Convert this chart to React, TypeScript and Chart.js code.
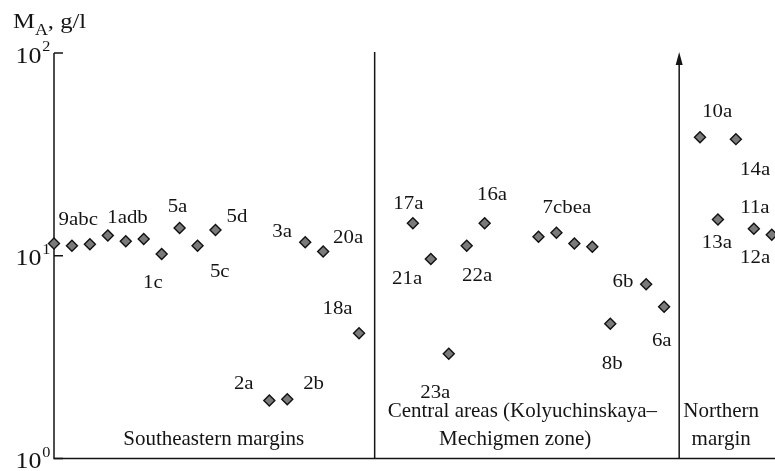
import React, { useEffect, useRef } from "react";
import { Chart, registerables } from "chart.js";

Chart.register(...registerables);

// Sample positions along the section (ordinal slots) and M_A concentration, g/l
const sampleX = [
  0, 1, 2, 3, 4, 5, 6, 7, 8, 9, 12, 13, 14, 15, 17,
  20, 21, 22, 23, 24, 27, 28, 29, 30, 31, 33, 34,
  36, 37, 38, 39, 40,
];
const concentration = [
  11.5, 11.2, 11.4, 12.6, 11.8, 12.1, 10.2, 13.7, 11.2, 13.4, 1.93, 1.96, 11.65, 10.5, 4.15,
  14.45, 9.64, 3.29, 11.2, 14.45, 12.4, 13.0, 11.5, 11.08, 4.62, 7.23, 5.61,
  38.4, 15.1, 37.6, 13.6, 12.7,
];

// Boundaries between regions (in sample slots); the last one carries an arrow
const regionBounds = [17.87, 34.84];

// Decade ticks of the log axis
const yTicks = [1, 10, 100];
const yTickExponents = ["0", "1", "2"];

// Sample labels: text anchored at (slot, concentration) of its baseline centre
const labelText = [
  "9abc", "1adb", "5a", "5d", "1c", "5c", "2a", "2b", "3a", "20a", "18a",
  "17a", "21a", "23a", "22a", "16a", "7cbea", "6b", "8b", "6a",
  "10a", "14a", "11a", "13a", "12a",
];
const labelX = [
  1.355, 4.097, 6.884, 10.2, 5.507, 9.236, 10.574, 14.465, 12.71, 16.39, 15.8,
  19.75, 19.68, 21.25, 23.58, 24.41, 28.58, 31.71, 31.11, 33.87,
  36.96, 39.07, 39.06, 36.94, 39.07,
];
const labelY = [
  14.18, 14.55, 16.38, 14.72, 6.96, 7.88, 2.19, 2.19, 12.42, 11.6, 5.14,
  16.95, 7.23, 1.99, 7.53, 18.84, 16.2, 6.99, 2.75, 3.6,
  48.5, 25.0, 16.3, 10.9, 9.24,
];

// Region captions
const regionText = [
  "Southeastern margins",
  "Central areas (Kolyuchinskaya–",
  "Mechigmen zone)",
  "Northern",
  "margin",
];
const regionX = [8.9, 26.1, 25.7, 37.18, 37.18];
const regionY = [1.166, 1.6, 1.166, 1.6, 1.166];

const INK = "#141414";
const FONT = '"Liberation Serif", "Times New Roman", serif';
const STRETCH = 1.07;

function drawText(
  ctx: CanvasRenderingContext2D,
  text: string,
  x: number,
  y: number,
  size: number,
  align: CanvasTextAlign = "center",
  sx: number = STRETCH
) {
  ctx.save();
  ctx.font = `${size}px ${FONT}`;
  ctx.fillStyle = INK;
  ctx.translate(x, y);
  ctx.scale(sx, 1);
  ctx.textAlign = align;
  ctx.textBaseline = "alphabetic";
  ctx.fillText(text, 0, 0);
  ctx.restore();
}

function textWidth(ctx: CanvasRenderingContext2D, text: string, size: number, sx: number) {
  ctx.save();
  ctx.font = `${size}px ${FONT}`;
  const w = ctx.measureText(text).width * sx;
  ctx.restore();
  return w;
}

const framePlugin = {
  id: "frame",
  beforeDatasetsDraw(chart: any) {
    const { ctx, chartArea: a, scales } = chart;
    const xs = scales.x;
    const ys = scales.y;
    ctx.save();
    ctx.strokeStyle = INK;
    ctx.fillStyle = INK;
    ctx.lineWidth = 1.5;

    // axes
    ctx.beginPath();
    ctx.moveTo(a.left, a.top);
    ctx.lineTo(a.left, a.bottom);
    ctx.lineTo(chart.width, a.bottom);
    ctx.stroke();

    // inward decade ticks
    ctx.beginPath();
    yTicks.forEach((v) => {
      const py = ys.getPixelForValue(v);
      ctx.moveTo(a.left, py);
      ctx.lineTo(a.left + 9, py);
    });
    ctx.stroke();

    // region separators
    regionBounds.forEach((b, i) => {
      const px = xs.getPixelForValue(b);
      const last = i === regionBounds.length - 1;
      ctx.beginPath();
      ctx.moveTo(px, a.bottom);
      ctx.lineTo(px, last ? a.top + 8 : a.top - 1);
      ctx.stroke();
      if (last) {
        ctx.beginPath();
        ctx.moveTo(px, a.top - 1);
        ctx.lineTo(px - 3.5, a.top + 12);
        ctx.lineTo(px + 3.5, a.top + 12);
        ctx.closePath();
        ctx.fill();
      }
    });
    ctx.restore();

    // tick labels 10^n
    yTicks.forEach((v, i) => {
      const py = ys.getPixelForValue(v);
      drawText(ctx, "10", a.left - 12.5, py + 9.5, 24, "right", 1.08);
      drawText(ctx, yTickExponents[i], a.left - 11.8, py - 2, 15.5, "left", 1.05);
    });

    // axis title M_A, g/l
    let tx = a.left - 41;
    const ty = a.top - 25;
    drawText(ctx, "M", tx, ty, 22, "left", 1.12);
    tx += textWidth(ctx, "M", 22, 1.12);
    drawText(ctx, "A", tx, ty + 6.5, 16, "left", 1.12);
    tx += textWidth(ctx, "A", 16, 1.12);
    drawText(ctx, ", g/l", tx, ty, 22, "left", 1.12);
  },
  afterDatasetsDraw(chart: any) {
    const { ctx, scales } = chart;
    const xs = scales.x;
    const ys = scales.y;
    labelText.forEach((t, i) => {
      drawText(ctx, t, xs.getPixelForValue(labelX[i]), ys.getPixelForValue(labelY[i]), 19.5);
    });
    regionText.forEach((t, i) => {
      drawText(ctx, t, xs.getPixelForValue(regionX[i]), ys.getPixelForValue(regionY[i]), 21, "center", 1.0);
    });
  },
};

export default function App() {
  const canvasRef = useRef<HTMLCanvasElement | null>(null);

  useEffect(() => {
    const canvas = canvasRef.current;
    if (!canvas) return;
    const chart = new Chart(canvas, {
      type: "scatter",
      data: {
        datasets: [
          {
            data: sampleX.map((x, i) => ({ x, y: concentration[i] })),
            pointStyle: "rectRot",
            pointRadius: 5.5,
            backgroundColor: "#7a7a7a",
            borderColor: "#111111",
            borderWidth: 1.4,
            clip: false as any,
          },
        ],
      },
      options: {
        responsive: false,
        animation: false,
        devicePixelRatio: 1,
        events: [],
        layout: { autoPadding: false, padding: { left: 54, right: 0, top: 53, bottom: 12.5 } },
        plugins: { legend: { display: false }, tooltip: { enabled: false } },
        scales: {
          x: { type: "linear", min: 0, max: 40.18, display: false },
          y: { type: "logarithmic", min: 1, max: 100, display: false },
        },
      },
      plugins: [framePlugin],
    });
    return () => chart.destroy();
  }, []);

  return (
    <div style={{ position: "absolute", left: 0, top: 0, width: 775, height: 471, background: "#fff" }}>
      <canvas ref={canvasRef} width={775} height={471} style={{ display: "block" }} />
    </div>
  );
}
